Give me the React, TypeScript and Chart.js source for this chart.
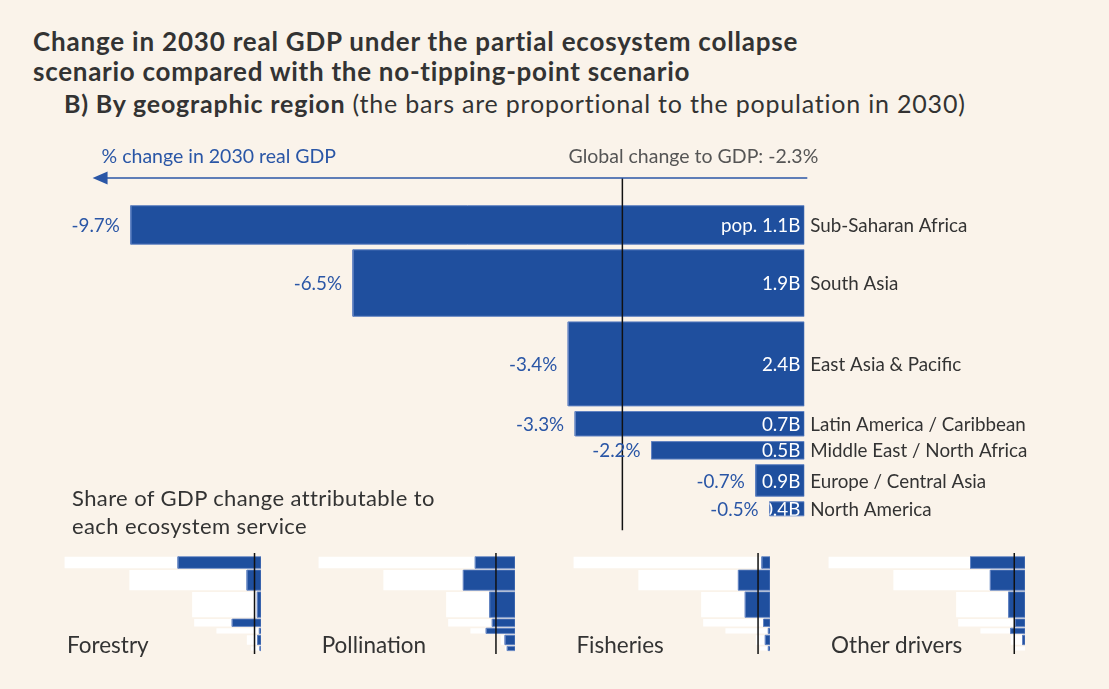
import React, { useEffect, useRef } from "react";
import { Chart, registerables } from "chart.js";

Chart.register(...registerables);

// ---------- DATA ----------
const regions = [
  "Sub-Saharan Africa",
  "South Asia",
  "East Asia & Pacific",
  "Latin America / Caribbean",
  "Middle East / North Africa",
  "Europe / Central Asia",
  "North America",
];
const gdpChange = [-9.7, -6.5, -3.4, -3.3, -2.2, -0.7, -0.5];
const valueLabels = ["-9.7%", "-6.5%", "-3.4%", "-3.3%", "-2.2%", "-0.7%", "-0.5%"];
const population = [1.1, 1.9, 2.4, 0.7, 0.5, 0.9, 0.4];
const popLabels = ["pop. 1.1B", "1.9B", "2.4B", "0.7B", "0.5B", "0.9B", "0.4B"];
const globalChangeLabel = "Global change to GDP: -2.3%";
const globalLineValue = -2.62;

const services = ["Forestry", "Pollination", "Fisheries", "Other drivers"];
const forestryShare = [-4.1, -0.69, -0.18, -1.42, -0.08, -0.17, -0.05];
const pollinationShare = [-1.96, -2.55, -1.25, -1.12, -1.42, -0.49, -0.38];
const fisheriesShare = [-0.4, -1.56, -1.22, -0.32, -0.08, -0.23, -0.08];
const otherShare = [-2.69, -1.71, -0.81, -0.49, -0.71, -0.12, 0];
const serviceShares = [forestryShare, pollinationShare, fisheriesShare, otherShare];
const serviceGlobal = [-0.32, -0.94, -0.59, -0.53];

// ---------- STYLE ----------
const BG = "#FAF3EA";
const BAR_BLUE = "#1F4F9E";
const BAR_EDGE = "#6283C2";
const TEXT_BLUE = "#2A56A6";
const DARK = "#333333";
const GREY = "#555555";
const FONT = "Lato, 'Noto Sans', sans-serif";
const ROW_GAP = 0.16;

function rowBounds(pop: number[], gap: number) {
  const rows: { top: number; bottom: number; mid: number }[] = [];
  let y = 0;
  for (const p of pop) {
    rows.push({ top: y, bottom: y + p, mid: y + p / 2 });
    y += p + gap;
  }
  return rows;
}

function rectPoints(value: number, top: number, bottom: number) {
  return [
    { x: 0, y: top },
    { x: value, y: top },
    { x: value, y: bottom },
    { x: 0, y: bottom },
    { x: 0, y: top },
  ];
}

const rows = rowBounds(population, ROW_GAP);

function MainChart() {
  const ref = useRef<HTMLCanvasElement | null>(null);
  useEffect(() => {
    if (!ref.current) return;
    const ARROW_Y = -0.79;
    const LINE_BOTTOM = 9.27;
    const ARROW_END = -10.25;

    const labelPlugin = {
      id: "mainLabels",
      afterDatasetsDraw(chart: any) {
        const { ctx } = chart;
        const x = chart.scales.x;
        const y = chart.scales.y;
        const x0 = x.getPixelForValue(0);
        ctx.save();
        ctx.textBaseline = "middle";
        ctx.font = `18.8px ${FONT}`;
        rows.forEach((r, i) => {
          const yMid = y.getPixelForValue(r.mid) + 1;
          const yTop = y.getPixelForValue(r.top);
          const yBot = y.getPixelForValue(r.bottom);
          const xv = x.getPixelForValue(gdpChange[i]);
          ctx.fillStyle = TEXT_BLUE;
          ctx.textAlign = "right";
          ctx.fillText(valueLabels[i], xv - 11, yMid);
          ctx.save();
          ctx.beginPath();
          ctx.rect(xv, yTop, x0 - xv, yBot - yTop);
          ctx.clip();
          ctx.fillStyle = "#ffffff";
          ctx.fillText(popLabels[i], x0 - 4, yMid);
          ctx.restore();
          ctx.fillStyle = DARK;
          ctx.textAlign = "left";
          ctx.fillText(regions[i], x0 + 6, yMid);
        });
        // arrow
        const ay = y.getPixelForValue(ARROW_Y);
        const tip = x.getPixelForValue(ARROW_END);
        ctx.strokeStyle = TEXT_BLUE;
        ctx.lineWidth = 1.5;
        ctx.beginPath();
        ctx.moveTo(x0 + 3, ay);
        ctx.lineTo(tip + 10, ay);
        ctx.stroke();
        ctx.fillStyle = TEXT_BLUE;
        ctx.beginPath();
        ctx.moveTo(tip, ay);
        ctx.lineTo(tip + 15, ay - 6.5);
        ctx.lineTo(tip + 15, ay + 6.5);
        ctx.closePath();
        ctx.fill();
        // axis captions
        ctx.font = `19.5px ${FONT}`;
        ctx.textAlign = "left";
        ctx.fillStyle = TEXT_BLUE;
        ctx.fillText("% change in 2030 real GDP", tip + 9, ay - 21);
        ctx.fillStyle = GREY;
        ctx.textAlign = "right";
        ctx.fillText(globalChangeLabel, x0 + 14, ay - 21);
        ctx.restore();
      },
    };

    const datasets: any[] = rows.map((r, i) => ({
      type: "line",
      data: rectPoints(gdpChange[i], r.top, r.bottom),
      borderColor: BAR_EDGE,
      borderWidth: 1,
      backgroundColor: BAR_BLUE,
      fill: "shape",
      pointRadius: 0,
      tension: 0,
      order: 2,
    }));
    datasets.push({
      type: "line",
      data: [
        { x: globalLineValue, y: ARROW_Y },
        { x: globalLineValue, y: LINE_BOTTOM },
      ],
      borderColor: "#111111",
      borderWidth: 1.5,
      pointRadius: 0,
      fill: false,
      order: 0,
    });

    const chart = new Chart(ref.current, {
      type: "line",
      data: { datasets },
      options: {
        animation: false,
        responsive: false,
        maintainAspectRatio: false,
        events: [],
        layout: { padding: { left: 40.5, right: 304.7, top: 170.7, bottom: 150.8 } },
        scales: {
          x: { type: "linear", min: -11, max: 0, display: false },
          y: { type: "linear", reverse: true, min: -1, max: 9.5, display: false },
        },
        plugins: { legend: { display: false }, tooltip: { enabled: false }, title: { display: false } },
      } as any,
      plugins: [labelPlugin],
    });
    return () => chart.destroy();
  }, []);
  return (
    <canvas
      ref={ref}
      width={1109}
      height={689}
      style={{ position: "absolute", left: 0, top: 0, width: 1109, height: 689 }}
    />
  );
}

function MiniChart({ index }: { index: number }) {
  const ref = useRef<HTMLCanvasElement | null>(null);
  const left = 45.7 + index * 254.7;
  useEffect(() => {
    if (!ref.current) return;
    const shares = serviceShares[index];
    const datasets: any[] = [];
    rows.forEach((r, i) => {
      datasets.push({
        type: "line",
        data: rectPoints(gdpChange[i], r.top, r.bottom),
        borderColor: "#ffffff",
        borderWidth: 0,
        backgroundColor: "#ffffff",
        fill: "shape",
        pointRadius: 0,
        order: 3,
      });
      if (shares[i] !== 0) {
        datasets.push({
          type: "line",
          data: rectPoints(shares[i], r.top, r.bottom),
          borderColor: BAR_EDGE,
          borderWidth: 0.8,
          backgroundColor: BAR_BLUE,
          fill: "shape",
          pointRadius: 0,
          order: 2,
        });
      }
    });
    datasets.push({
      type: "line",
      data: [
        { x: serviceGlobal[index], y: -0.35 },
        { x: serviceGlobal[index], y: 9.18 },
      ],
      borderColor: "#111111",
      borderWidth: 1.5,
      pointRadius: 0,
      fill: false,
      order: 0,
    });
    const chart = new Chart(ref.current, {
      type: "line",
      data: { datasets },
      options: {
        animation: false,
        responsive: false,
        maintainAspectRatio: false,
        events: [],
        layout: { padding: { left: 0, right: 7, top: 0, bottom: 0 } },
        scales: {
          x: { type: "linear", min: -10.617, max: 0, display: false },
          y: { type: "linear", reverse: true, min: -1.104, max: 9.745, display: false },
        },
        plugins: { legend: { display: false }, tooltip: { enabled: false } },
      } as any,
    });
    return () => chart.destroy();
  }, [index]);
  return (
    <>
      <canvas
        ref={ref}
        width={222}
        height={115}
        style={{ position: "absolute", left, top: 545, width: 222, height: 115 }}
      />
      <div
        style={{
          position: "absolute",
          left: left + 21.3,
          top: 633.5,
          fontFamily: FONT,
          fontSize: 22.5,
          lineHeight: 1,
          color: DARK,
          whiteSpace: "nowrap",
        }}
      >
        {services[index]}
      </div>
    </>
  );
}

export default function App() {
  useEffect(() => {
    document.body.style.margin = "0";
    document.body.style.background = BG;
  }, []);
  const titleStyle: React.CSSProperties = {
    position: "absolute",
    fontFamily: FONT,
    color: DARK,
    lineHeight: 1,
    whiteSpace: "nowrap",
  };
  return (
    <div
      style={{
        position: "absolute",
        left: 0,
        top: 0,
        width: 1109,
        height: 689,
        background: BG,
        overflow: "hidden",
      }}
    >
      <div style={{ ...titleStyle, left: 33, top: 28, fontSize: 26, fontWeight: 700, letterSpacing: 0.8 }}>
        Change in 2030 real GDP under the partial ecosystem collapse
      </div>
      <div style={{ ...titleStyle, left: 33, top: 58, fontSize: 26, fontWeight: 700, letterSpacing: 0.72 }}>
        scenario compared with the no-tipping-point scenario
      </div>
      <div style={{ ...titleStyle, left: 64, top: 91, fontSize: 25, letterSpacing: 0.8 }}>
        <span style={{ fontWeight: 700 }}>B) By geographic region</span>
        <span> (the bars are proportional to the population in 2030)</span>
      </div>
      <MainChart />
      <div style={{ ...titleStyle, left: 72, top: 487, fontSize: 22, letterSpacing: 0.4 }}>
        Share of GDP change attributable to
      </div>
      <div style={{ ...titleStyle, left: 72, top: 515, fontSize: 22, letterSpacing: 0.4 }}>
        each ecosystem service
      </div>
      {services.map((_, i) => (
        <MiniChart key={i} index={i} />
      ))}
    </div>
  );
}
